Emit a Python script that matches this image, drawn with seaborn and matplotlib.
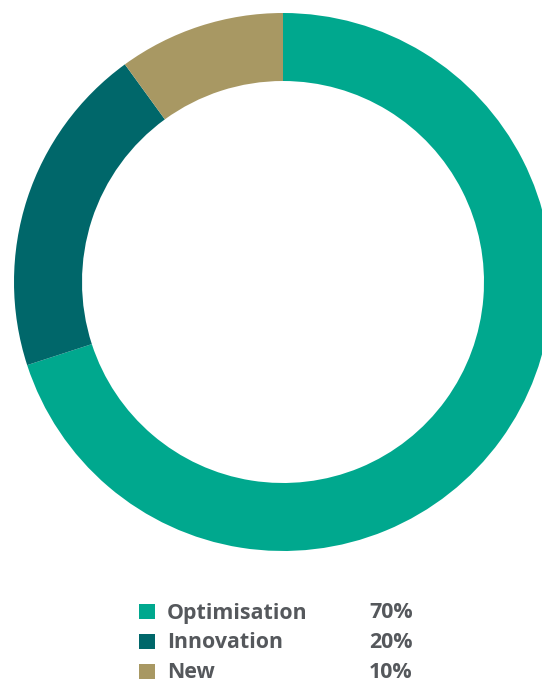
import matplotlib
matplotlib.use("Agg")
import matplotlib.pyplot as plt
import seaborn as sns
from matplotlib.patches import Rectangle

sns.set_theme(style="white")
plt.rcParams['font.family'] = ['Open Sans', 'DejaVu Sans']

categories = ["Optimisation", "Innovation", "New"]
values = [70, 20, 10]
pct_labels = ["70%", "20%", "10%"]
colors = ["#00A88E", "#00676A", "#A89863"]

W, H = 542, 682
fig = plt.figure(figsize=(W / 100, H / 100), dpi=100)
ax = fig.add_axes([0, 0, 1, 1])
ax.set_xlim(0, W)
ax.set_ylim(0, H)
ax.set_aspect('equal')
ax.axis('off')

ax.pie(values, colors=colors, startangle=90, counterclock=False,
       center=(283, H - 282), radius=269,
       wedgeprops=dict(width=68, edgecolor='none', linewidth=0))
ax.set_xlim(0, W)
ax.set_ylim(0, H)

text_color = "#55585C"
baselines = [618.5, 648.5, 678.5]
for cat, pct, col, b in zip(categories, pct_labels, colors, baselines):
    ax.add_patch(Rectangle((139, H - b), 16, 15, facecolor=col, edgecolor='none'))
    ax.text(167, H - b, cat, fontsize=15.4, fontweight='bold', color=text_color,
            va='baseline', ha='left')
    ax.text(369, H - b, pct, fontsize=15.4, fontweight='bold', color=text_color,
            va='baseline', ha='left')

fig.savefig("out.png", dpi=100)
